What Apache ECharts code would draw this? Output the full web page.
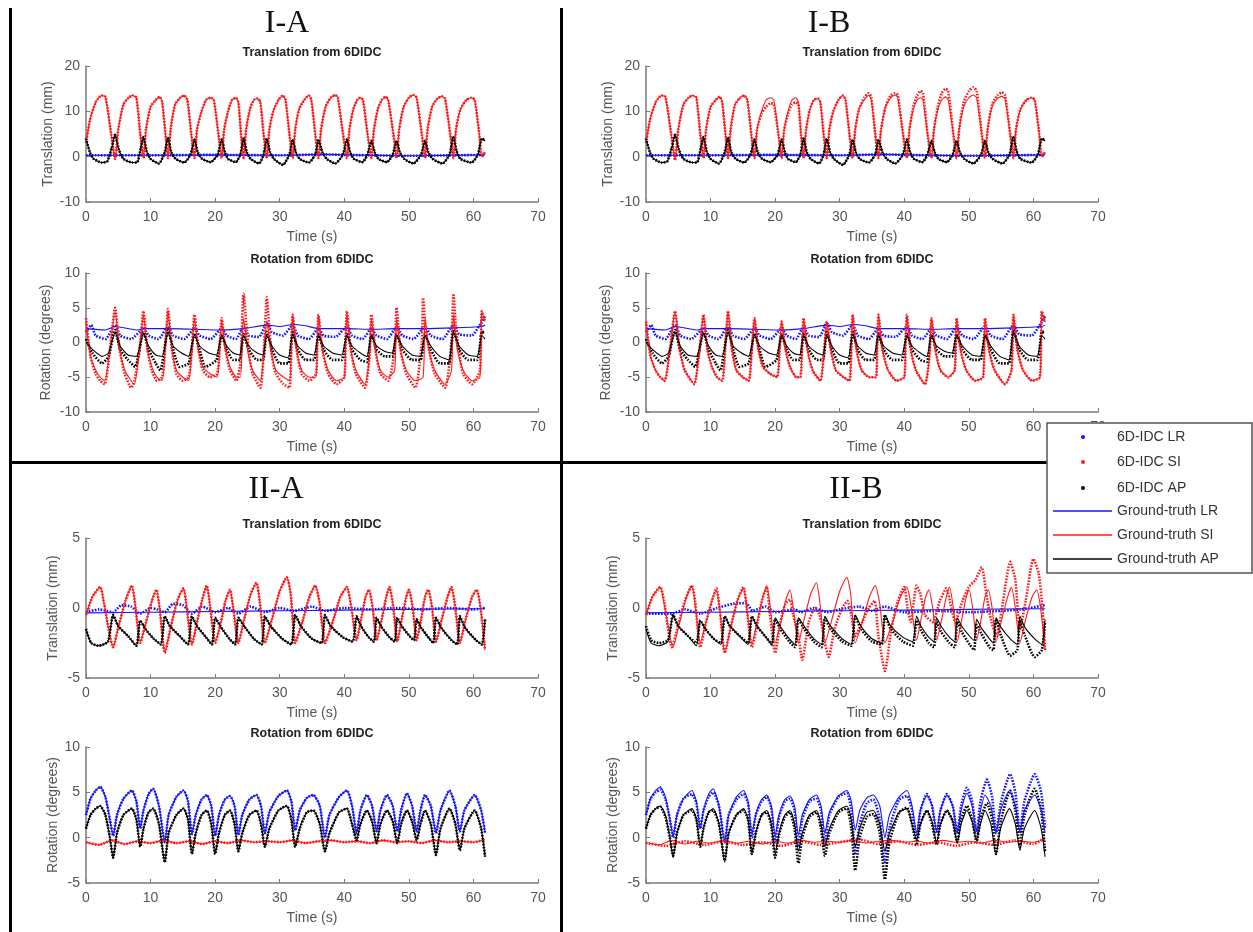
<!DOCTYPE html>
<html>
<head>
<meta charset="utf-8">
<script src="https://cdn.jsdelivr.net/npm/echarts@6/dist/echarts.min.js"></script>
<style>
  html, body { margin: 0; background: #fff; }
  #main { width: 1253px; height: 932px; }
</style>
</head>
<body>
<div id="main"></div>
<script>
// ---- row I, translation (mm) ----
var gtTransI_LR = [[0,0.3],[10,0.3],[20,0.4],[30,0.3],[37,0.5],[40,0.4],[50,0.2],[61.8,0.4]]
var gtTransI_SI = [[0,3],[0.6,8],[1.5,12],[2.4,13.5],[3.0,13.2],[3.9,5],[4.5,-0.5],
  [5.0,6],[5.8,11.5],[6.6,13],[7.2,13.5],[7.8,13],[8.4,5],[8.9,-0.3],
  [9.3,6],[10.0,11],[10.8,12.5],[11.4,13.2],[11.8,12],[12.3,5],[12.7,-0.3],
  [13.1,6],[13.8,11.5],[14.6,13],[15.2,13.5],[15.7,12.5],[16.3,5],[16.8,-0.3],
  [17.2,6],[17.9,10],[18.6,12.5],[19.3,13],[19.8,12.5],[20.5,5],[21.0,-0.3],
  [21.4,6],[22.0,10],[22.6,12.5],[23.2,13],[23.6,12],[24.0,5],[24.4,-0.3],
  [24.8,6],[25.4,10.5],[26.0,12.5],[26.6,12.8],[27.0,12],[27.5,5],[28.0,-0.3],
  [28.4,6],[29.0,10],[29.8,12.5],[30.5,13.5],[30.9,12.5],[31.5,5],[32.0,-0.3],
  [32.4,6],[33.0,10.5],[33.8,12.5],[34.5,13.5],[34.9,12.5],[35.5,5],[36.0,-0.3],
  [36.4,6],[37.1,11],[37.9,13],[38.6,13.6],[39.0,13],[39.8,5],[40.4,-0.3],
  [40.8,6],[41.4,10.5],[42.0,12.5],[42.5,13],[42.9,12.5],[43.6,5],[44.2,-0.3],
  [44.6,6],[45.2,10.5],[45.8,12.5],[46.4,13.2],[46.8,12.5],[47.6,5],[48.1,-0.3],
  [48.5,6],[49.2,11],[50.0,13],[50.7,13.6],[51.2,13],[52.0,5],[52.5,-0.3],
  [52.9,6],[53.6,11],[54.4,12.8],[55.1,13.3],[55.6,12.8],[56.4,5],[56.9,-0.3],
  [57.3,6],[58.0,10.5],[58.9,12.5],[59.7,13],[60.2,12.5],[60.9,5],[61.3,0],[61.8,1]]
var gtTransI_AP = [[0,4],[0.6,1],[1.2,-0.5],[2.5,-1.3],[3.3,-1],[4.0,2],[4.5,4.8],
  [5.1,1.5],[5.8,-0.5],[7.2,-1.3],[7.9,-1.3],[8.5,2],[8.9,4.3],
  [9.4,1.2],[10.0,-0.5],[11.3,-1.5],[12.2,1],[12.7,4.3],
  [13.2,1],[13.9,-0.5],[15.2,-1.3],[16.2,0.5],[16.8,3.8],
  [17.3,1],[18.0,-0.5],[19.3,-1.2],[20.4,0.5],[21.0,3.8],
  [21.5,1],[22.0,-0.5],[23.2,-1.2],[23.9,0.5],[24.4,4.0],
  [24.9,1],[25.5,-0.5],[26.8,-1.5],[27.5,0.5],[28.0,4.0],
  [28.5,1],[29.1,-0.5],[30.5,-1.8],[31.5,0.5],[32.0,3.8],
  [32.5,1],[33.1,-0.5],[34.5,-1.3],[35.5,0.5],[36.0,3.8],
  [36.6,1],[37.3,-0.5],[38.6,-1.5],[39.8,0.5],[40.4,3.8],
  [40.9,1],[41.5,-0.5],[42.8,-1.2],[43.6,0.5],[44.2,3.5],
  [44.7,1],[45.3,-0.5],[46.6,-1.2],[47.5,0.5],[48.1,3.5],
  [48.6,1],[49.3,-0.5],[50.7,-1.5],[51.9,0.5],[52.5,3.5],
  [53.0,1],[53.7,-0.5],[55.2,-1.5],[56.3,0.5],[56.9,4.5],
  [57.4,1.2],[58.0,-0.5],[59.7,-1.3],[60.7,0.5],[61.3,4.0],[61.8,3.5]]
var idcTransIB_SI = [[0,3],[0.6,8],[1.5,12],[2.4,13.5],[3.0,13.2],[3.9,5],[4.5,-0.8],
  [5.0,6],[5.8,11.5],[6.6,13],[7.2,13.5],[7.8,13],[8.4,5],[8.9,-0.3],
  [9.3,6],[10.0,11],[10.8,12.5],[11.4,13.2],[11.8,12],[12.3,5],[12.7,-0.3],
  [13.1,6],[13.8,11.5],[14.6,13],[15.2,13.5],[15.7,12.5],[16.3,5],[16.8,-0.3],
  [17.2,6],[17.9,9.5],[18.6,11],[19.3,11.8],[19.8,11.5],[20.5,5],[21.0,-0.3],
  [21.4,6],[22.0,9.5],[22.6,11.5],[23.2,12],[23.6,11.5],[24.0,5],[24.4,-0.3],
  [24.8,6],[25.4,10.5],[26.0,12.5],[26.6,12.8],[27.0,12],[27.5,5],[28.0,-0.3],
  [28.4,6],[29.0,10],[29.8,12.5],[30.5,13.5],[30.9,12.5],[31.5,5],[32.0,-0.3],
  [32.4,6],[33.0,10.5],[33.8,13],[34.5,14],[34.9,13],[35.5,5],[36.0,-0.3],
  [36.4,6],[37.1,11],[37.9,13.5],[38.6,14],[39.0,13.5],[39.8,5],[40.4,-0.3],
  [40.8,6],[41.4,11],[42.0,13.5],[42.5,14.5],[42.9,14],[43.6,5],[44.2,-0.3],
  [44.6,6],[45.2,11],[45.8,14],[46.4,15],[46.8,14.5],[47.6,5],[48.1,-0.3],
  [48.5,6],[49.2,12],[50.0,14.5],[50.7,15.3],[51.2,14.5],[52.0,5],[52.5,-0.3],
  [52.9,6],[53.6,11.5],[54.4,13.5],[55.1,14.2],[55.6,13.5],[56.4,5],[56.9,-0.3],
  [57.3,6],[58.0,10.5],[58.9,12.5],[59.7,13],[60.2,12.5],[60.9,5],[61.3,0],[61.8,1]]

// ---- row I, rotation (degrees) ----
var gtRotI_LR = [[0,2],[3,1.8],[4.5,2.3],[8,1.8],[8.9,2],[12.7,2],[16.8,1.9],[21,1.8],[24.4,2],[28,2.5],
  [30,2.3],[32,2.6],[34,2.4],[36,2],[40.4,2],[44.2,1.9],[48.1,2],[52.5,2],[56.9,2.1],[61.3,2.3],[61.8,2.5]]
var gtRotI_SI = [[0,3],[0.7,-2],[1.5,-4],[2.2,-5],[2.9,-5.5],[3.7,-1],[4.5,4.5],
  [5.2,-1],[6.0,-4],[7.0,-5.5],[7.5,-6],[8.3,-1],[8.9,4],
  [9.5,-1],[10.2,-3.5],[11.0,-5],[11.8,-5.5],[12.3,-0.5],[12.7,4.5],
  [13.3,-1],[14.0,-4],[15.0,-5],[15.9,-5.5],[16.4,-1],[16.8,3.5],
  [17.4,-1],[18.1,-3.5],[19.2,-4.5],[20.3,-5],[20.7,-1],[21.0,3],
  [21.6,-1],[22.3,-3.5],[23.3,-5],[23.9,-5],[24.2,0],[24.4,3.5],
  [25.0,-1],[25.8,-4],[27.0,-5.5],[27.6,-1],[28.0,3],
  [28.6,-1],[29.4,-4],[30.6,-5],[31.5,-5.5],[31.8,-1],[32.0,4],
  [32.6,-1],[33.4,-4],[34.6,-5],[35.6,-5],[35.8,-1],[36.0,4],
  [36.6,-1],[37.5,-4],[38.8,-5.5],[40.0,-5],[40.2,0],[40.4,4],
  [41.0,-1],[41.8,-4],[43.2,-6],[43.9,-2],[44.2,3.5],
  [44.8,-1],[45.6,-4],[46.8,-5],[47.8,-4],[48.1,3.5],
  [48.7,-1],[49.6,-4],[51.0,-5.5],[52.2,-5],[52.5,3.5],
  [53.1,-1],[54.0,-4],[55.6,-6],[56.6,-4],[56.9,4],
  [57.5,-1],[58.4,-4],[59.8,-5.5],[61.0,-5],[61.3,4.5],[61.8,3]]
var gtRotI_AP = [[0,0],[1,-1],[2.5,-2],[3.5,-1.5],[4.5,1.5],
  [5.3,-0.5],[6.5,-1.8],[7.8,-2],[8.9,1.3],
  [9.7,-0.5],[10.8,-1.8],[11.8,-2],[12.7,1.5],
  [13.5,-0.5],[14.8,-1.5],[15.9,-2],[16.8,1],
  [17.6,-0.5],[19,-1.5],[20.2,-1.8],[21.0,1],
  [21.8,-0.5],[22.8,-1.5],[23.8,-1.8],[24.4,1],
  [25.2,-0.5],[26.5,-1.5],[27.4,-1.8],[28.0,1],
  [28.8,-0.5],[30,-1.8],[31.3,-2.2],[32.0,1.2],
  [32.8,-0.5],[34,-1.5],[35.3,-1.8],[36.0,1],
  [36.8,-0.5],[38.2,-1.5],[39.6,-1.8],[40.4,1],
  [41.2,-0.5],[42.5,-1.5],[43.5,-2],[44.2,1],
  [45,-0.5],[46.3,-1.3],[47.4,-1.5],[48.1,1],
  [49,-0.5],[50.5,-1.8],[51.8,-2],[52.5,1],
  [53.4,-0.5],[54.8,-2],[56.2,-2.5],[56.9,1.5],
  [57.8,-0.5],[59.2,-1.8],[60.6,-2],[61.3,1],[61.8,0.5]]
var idcRotI_LR = [[0,1.5],[0.8,2.5],[1.5,1],[3,0.5],[4.5,2.5],[5.3,1],[7,0.5],[8.9,2],[9.7,1],[11.2,0.5],
  [12.7,2.3],[13.5,1],[15.2,0.5],[16.8,2],[17.6,1],[19.3,0.5],[21,2],[21.8,1],[23.2,0.5],[24.4,2.2],
  [25.2,1],[26.8,0.8],[28,2.8],[28.8,1.5],[30.5,1],[32,2.5],[32.8,1],[34.5,0.5],[36,2],[36.8,1],
  [38.6,0.8],[40.4,2.3],[41.2,1],[42.8,0.5],[44.2,2],[45,1],[46.6,0.5],[48.1,2.2],[49,1],[50.7,0.5],
  [52.5,2.3],[53.4,1],[55.2,0.5],[56.9,2.5],[57.8,1.2],[59.7,1],[61.3,3],[61.8,3.8]]
var idcRotIA_SI = [[0,3.5],[0.7,-2],[1.5,-4.5],[2.2,-5.5],[2.9,-6],[3.7,-1],[4.5,5],
  [5.2,-1],[6.0,-4.5],[7.0,-6.5],[7.5,-5.5],[8.3,-1],[8.9,4.5],
  [9.5,-1],[10.2,-4],[11.0,-5.5],[11.8,-5],[12.3,-0.5],[12.7,4.8],
  [13.3,-1],[14.0,-4.5],[15.0,-5.5],[15.9,-5],[16.4,-1],[16.8,4],
  [17.4,-1],[18.1,-4],[19.2,-5],[20.3,-4.5],[20.7,-1],[21.0,3.5],
  [21.6,-1],[22.3,-4],[23.3,-5.5],[23.9,-3],[24.4,7],[24.8,3],[25.3,-2],[25.8,-4.5],[27.0,-6.5],[27.6,0],[28.0,6.5],[28.4,2],
  [28.8,-2],[29.4,-4.5],[30.6,-6],[31.5,-6.5],[31.8,-1],[32.0,4],
  [32.6,-1],[33.4,-4.5],[34.6,-5.5],[35.6,-4.5],[35.8,-1],[36.0,4],
  [36.6,-1],[37.5,-4.5],[38.8,-6],[40.0,-5],[40.2,0],[40.4,4.5],
  [41.0,-1],[41.8,-4.5],[43.2,-6.5],[43.9,-2],[44.2,4],
  [44.8,-1],[45.6,-4.5],[46.8,-5.5],[47.8,-1],[48.1,5],
  [48.7,-1],[49.6,-4.5],[51.0,-6.5],[52.0,0],[52.2,6.4],[52.6,2],
  [53.1,-1],[54.0,-4.5],[55.6,-6.5],[56.6,0],[56.9,7],[57.3,2],
  [57.8,-1.5],[58.4,-4.5],[59.8,-6],[61.0,-4],[61.3,4.5],[61.8,3]]
var idcRotI_AP = [[0,0.5],[1,-1.5],[2.5,-3],[3.5,-2],[4.5,1.8],
  [5.3,-1],[6.5,-2.5],[7.6,-3.5],[8.9,1.5],
  [9.7,-1],[10.8,-3],[11.5,-4],[12.7,1.8],
  [13.5,-1],[14.5,-3.5],[15.9,-3],[16.8,1.3],
  [17.6,-1],[18.5,-3.5],[20.2,-2.5],[21.0,1],
  [21.8,-1],[22.8,-2.5],[23.8,-2.5],[24.4,1.2],
  [25.2,-1],[26.5,-2.5],[27.4,-2.5],[28.0,1.5],
  [28.8,-1],[30,-3],[31.3,-3],[32.0,1.5],
  [32.8,-1],[34,-2.5],[35.3,-2.5],[36.0,1.2],
  [36.8,-1],[38.2,-2.5],[39.6,-2.5],[40.4,1.2],
  [41.2,-1],[42.5,-2.5],[43.5,-2.8],[44.2,1.2],
  [45,-1],[46.3,-2],[47.4,-2],[48.1,1.2],
  [49,-1],[50.5,-2.5],[51.8,-2.5],[52.5,1.2],
  [53.4,-1],[54.8,-3],[56.2,-3],[56.9,1.8],
  [57.8,-1],[59.2,-2.5],[60.6,-2.5],[61.3,1.5],[61.8,1.5]]

// ---- row II, translation (mm) ----
var gtTransII_LR = [[0,-0.35],[10,-0.3],[20,-0.25],[30,-0.2],[40,-0.15],[50,-0.1],[61.8,-0.05]]
var gtTransII_SI = [[0,-0.5],[1,0.8],[2.2,1.5],[2.8,0.3],[4.2,-2.8],[5.1,-1.2],[6.1,0.5],[7.1,1.6],[7.6,0.3],[8.4,-2.5],
  [9.3,-1],[10.2,0.5],[10.9,1.3],[11.4,0],[12.2,-3.2],[13.2,-1.2],[14.2,0.6],[15.1,1.4],[15.6,0],[16.4,-2.6],
  [17.2,-1],[18,0.6],[18.7,1.6],[19.2,0.2],[20,-2.5],[20.9,-1],[21.6,0.5],[22.3,1.3],[22.8,0],[23.6,-2.5],
  [24.5,-0.8],[25.5,1],[26.4,1.8],[26.9,0.5],[27.7,-2.5],[28.8,-0.8],[30,1.2],[31.1,2.2],[31.7,1],[32.4,-2.5],
  [33.5,-1],[34.6,0.8],[35.5,1.6],[36.2,0.3],[37,-2.5],[38.2,-1],[39.4,0.8],[40.4,1.5],[41.1,0],[41.9,-2.3],
  [42.6,-0.8],[43.3,0.8],[43.8,1.3],[44.4,0],[45,-2.3],[45.8,-0.8],[46.5,0.8],[47,1.5],[47.6,0],[48.2,-2.4],
  [48.9,-0.8],[49.6,0.8],[50,1.3],[50.6,0],[51.2,-2.3],[51.9,-0.8],[52.5,0.8],[53,1.3],[53.6,0],[54.2,-2.4],
  [55.1,-0.8],[56,0.8],[56.6,1.5],[57.2,0],[57.9,-2.5],[58.8,-0.8],[59.8,0.8],[60.5,1.3],[61.1,0],[61.8,-3]]
var gtTransII_AP = [[0,-1.5],[0.8,-2.5],[2,-2.7],[3.4,-2.4],[4.2,-0.5],[5,-1.3],[6.5,-2],[7.8,-2.7],[8.4,-0.9],
  [9.2,-1.5],[10.5,-2.2],[11.6,-2.6],[12.2,-0.6],[13,-1.3],[14.5,-2],[15.8,-2.6],[16.4,-0.6],
  [17.2,-1.3],[18.6,-2.1],[19.5,-2.6],[20,-0.7],[20.8,-1.3],[22.2,-2.2],[23.1,-2.6],[23.6,-0.7],
  [24.5,-1.3],[26,-2.2],[27.2,-2.6],[27.7,-0.6],[28.6,-1.3],[30.4,-2.2],[31.8,-2.6],[32.4,-0.5],
  [33.3,-1.3],[35,-2.2],[36.5,-2.5],[37,-0.5],[37.9,-1.3],[39.8,-2.1],[41.3,-2.4],[41.9,-0.6],
  [42.6,-1.3],[43.8,-2.1],[44.6,-2.4],[45,-0.7],[45.7,-1.3],[47,-2.1],[47.8,-2.4],[48.2,-0.7],
  [48.9,-1.3],[50.1,-2],[50.8,-2.3],[51.2,-0.8],[51.9,-1.4],[53.2,-2.2],[53.8,-2.5],[54.2,-0.7],
  [55,-1.4],[56.6,-2.3],[57.5,-2.6],[57.9,-0.6],[58.7,-1.4],[60.4,-2.3],[61.3,-2.6],[61.8,-0.8]]
var idcTransIIA_LR = [[0,-0.3],[2,-0.1],[4.2,-0.3],[5.5,0.2],[7,0.1],[8.4,-0.4],[10,0],[11,-0.1],[12.2,-0.3],
  [13.5,0.3],[15,0.2],[16.4,-0.4],[18,0.1],[20,-0.3],[22,0],[23.6,-0.4],[25.5,0.1],[27.7,-0.3],[30,0],
  [32.2,-0.2],[35,0.1],[37,-0.2],[40,0],[44,-0.1],[48,0],[52,-0.1],[56,0],[60,-0.1],[61.8,0]]
var idcTransIIB_LR = [[0,-0.4],[4,-0.4],[6,-0.1],[8.4,-0.4],[11,0],[13.5,0.3],[15.5,0.35],[16.5,-0.2],[18.5,0.1],
  [20,-0.3],[23,-0.1],[24,-0.3],[26,0],[28,-0.3],[30,-0.1],[33,0.1],[35,-0.2],[37,0.1],[40,-0.3],[45,-0.2],
  [50,-0.3],[55,-0.2],[58,-0.1],[61.8,0.2]]
var idcTransIIB_SI = [[0,-0.5],[1,0.8],[2.2,1.5],[2.8,0.5],[4.0,-2.8],[5,-1.2],[6,0.5],[7.1,1.6],[7.6,0.5],[8.4,-2.8],
  [9.3,-1],[10.2,0.5],[10.9,1.4],[11.4,0],[12.2,-3.2],[13.2,-1.2],[14.2,0.6],[15.1,1.5],[15.6,0],[16.4,-2.8],
  [17.2,-1.2],[18.0,0.6],[18.7,1.5],[19.2,-0.5],[20.0,-3.2],[20.8,-1],[21.6,0.3],[22.3,0.6],[22.8,-0.5],[23.6,-2],
  [24.2,-3.7],[25.2,-1],[26.2,0],[26.9,-0.5],[27.7,-2.5],[28.3,-3.5],[29.2,-1.5],[30.4,0],[31.2,0.5],[31.8,-0.5],
  [32.4,-2],[33.5,-1],[34.5,0],[35.4,0.5],[36.0,-2],[37.0,-4.5],[38,-1.5],[39,0.5],[40,1.5],[40.5,0],[41,-1],
  [41.9,1.6],[42.5,1],[43.2,-0.5],[44.4,-1],[45.5,0.5],[46.5,1.4],[47.3,0],[47.9,-1],[49,0.5],[50,1.5],[51,2],
  [52,2.9],[52.7,1],[53.5,-1],[54.3,-2],[55.3,0.5],[56.4,3.3],[57.2,2],[57.9,-1.5],[58.8,0.5],[60,3.5],[60.8,2.5],
  [61.4,0],[61.8,-3]]
var idcTransIIB_AP = [[0,-1.3],[0.8,-2.3],[2,-2.5],[3.4,-2.3],[4.2,-0.5],[5,-1.3],[6.5,-2],[7.8,-2.5],[8.4,-0.9],
  [9.2,-1.5],[10.5,-2.2],[11.6,-2.5],[12.2,-0.6],[13,-1.3],[14.5,-2],[15.8,-2.5],[16.4,-0.6],[17.2,-1.3],
  [18.6,-2.1],[19.5,-2.6],[20,-0.8],[20.8,-1.5],[22.2,-2.4],[23.1,-2.8],[23.6,-0.8],[24.5,-1.5],[26,-2.4],
  [27.2,-2.8],[27.7,-0.7],[28.6,-1.5],[30.4,-2.4],[31.8,-2.7],[32.4,-0.6],[33.3,-1.5],[35,-2.4],[36.5,-2.6],
  [37,-0.5],[37.9,-1.5],[39.8,-2.4],[41.3,-2.7],[41.9,-0.9],[42.6,-1.6],[43.8,-2.5],[44.6,-2.8],[45,-1],
  [45.7,-1.7],[47,-2.5],[47.8,-2.8],[48.2,-1],[48.9,-1.7],[50.1,-2.6],[50.8,-3],[51.2,-1.2],[51.9,-1.8],
  [53.2,-2.8],[53.8,-3],[54.2,-0.8],[55,-2],[56.4,-3.4],[57.5,-3],[57.9,-0.9],[58.7,-2],[60.2,-3.5],
  [61.3,-3],[61.8,-1]]

// ---- row II, rotation (degrees) ----
var gtRotII_LR = [[0,2.5],[0.7,4.3],[1.5,5.2],[2.2,5.6],[3,4.5],[3.7,2],[4.2,0.2],[4.8,2.5],[5.8,4.3],[7.1,5.2],
  [7.8,4],[8.4,1],[8.9,3],[9.7,4.8],[10.4,5.4],[11.3,3.5],[12.2,-0.5],[12.8,2.5],[14,4.5],[15.1,5.2],[15.8,4],
  [16.4,0.4],[17,2.5],[17.9,4.2],[18.7,4.7],[19.4,3.5],[20,0.2],[20.6,2.5],[21.5,4.2],[22.3,4.6],[23,3.5],
  [23.6,0.3],[24.2,2.5],[25.3,4.2],[26.4,4.7],[27.1,3.5],[27.7,0.5],[28.4,2.8],[29.8,4.6],[31.1,5.2],[31.8,4],
  [32.4,0.8],[33.1,3],[34.2,4.4],[35.2,4.7],[36.2,3.5],[37,0],[37.7,2.5],[39.2,4.5],[40.4,5.2],[41.2,3.5],
  [41.9,0.5],[42.5,3],[43.5,4.7],[44.3,3.5],[45,0.7],[45.6,3],[46.6,4.7],[47.5,3.5],[48.2,0.7],[48.8,3],
  [49.7,4.9],[50.5,3.5],[51.2,0.7],[51.8,3],[52.5,4.7],[53.4,3.5],[54.2,0.5],[54.9,3],[56.3,5.2],[57.2,3.5],
  [57.9,0.7],[58.6,3],[60.2,4.7],[61.2,3],[61.8,0.5]]
var gtRotII_SI = [[0,-0.5],[2,-0.8],[4,-0.3],[6,-0.7],[8,-0.4],[10,-0.6],[12,-0.3],[14,-0.6],[16,-0.4],[18,-0.7],
  [20,-0.4],[22,-0.6],[24,-0.3],[26,-0.5],[28,-0.4],[30,-0.5],[32,-0.3],[34,-0.6],[36,-0.4],[38,-0.3],[40,-0.5],
  [42,-0.4],[44,-0.6],[46,-0.3],[48,-0.5],[50,-0.4],[52,-0.6],[54,-0.3],[56,-0.5],[58,-0.4],[60,-0.5],[61.8,-0.2]]
var gtRotII_AP = [[0,1],[0.7,2.5],[1.5,3.2],[2.2,3.5],[3,2.5],[3.7,0],[4.2,-2.2],[4.8,0.5],[5.8,2.5],[7.1,3.2],
  [7.8,2],[8.4,-1],[8.9,1],[9.7,2.8],[10.4,3.2],[11.3,1.5],[12.2,-2.7],[12.8,0.5],[14,2.5],[15.1,3.2],[15.8,2],
  [16.4,-1.8],[17,0.5],[17.9,2.5],[18.7,3],[19.4,1.5],[20,-1.8],[20.6,0.5],[21.5,2.5],[22.3,3],[23,1.5],
  [23.6,-1.5],[24.2,0.5],[25.3,2.5],[26.4,3],[27.1,1.5],[27.7,-1],[28.4,1],[29.8,3],[31.1,3.5],[31.8,2],
  [32.4,-1],[33.1,1],[34.2,2.8],[35.2,3],[36.2,1.5],[37,-1.5],[37.7,0.5],[39.2,2.8],[40.4,3.2],[41.2,1.5],
  [41.9,-0.3],[42.5,1.5],[43.5,3],[44.3,1.8],[45,-0.6],[45.6,1.5],[46.6,3],[47.5,1.8],[48.2,-0.6],[48.8,1.5],
  [49.7,3],[50.5,1.8],[51.2,-0.3],[51.8,1.5],[52.5,3],[53.4,1.5],[54.2,-1.9],[54.9,1],[56.3,3.2],[57.2,1.5],
  [57.9,-1.4],[58.6,1],[60.2,3],[61.2,1],[61.8,-2.1]]
var idcRotIIB_SI = [[0,-0.6],[3,-0.9],[6,-0.4],[9,-0.8],[12,-0.4],[15,-0.8],[18,-0.5],[21,-0.9],[24,-0.4],
  [27,-0.8],[30,-0.5],[33,-0.2],[36,-0.7],[39,-0.4],[42,-0.8],[45,-0.5],[48,-0.9],[51,-0.5],[54,-0.8],
  [57,-0.3],[60,-0.7],[61.8,0]]
var idcRotIIB_LR = [[0,2.5],[0.7,4.3],[1.5,5],[2.2,5.3],[3,4.3],[3.7,2],[4.2,0],[4.8,2.5],[5.8,4.3],[7.1,4.8],
  [7.8,3.8],[8.4,1],[8.9,3],[9.7,4.5],[10.4,5],[11.3,3.5],[12.2,-0.5],[12.8,2.5],[14,4.2],[15.1,4.8],[15.8,3.8],
  [16.4,0],[17,2.5],[17.9,4],[18.7,4.5],[19.4,3.3],[20,-0.5],[20.6,2.3],[21.5,4],[22.3,4.3],[23,3],[23.6,-1],
  [24.2,2],[25.3,4],[26.4,4.3],[27.1,3],[27.7,-0.5],[28.4,2.5],[29.8,4.5],[31.1,4.9],[31.8,3],[32.4,-1.7],
  [33.1,1.5],[34.2,3.8],[35.2,4.2],[36.2,2],[37,-2.7],[37.7,1],[39.2,4.2],[40.4,4.6],[41.2,3],[41.9,0],
  [42.5,3],[43.5,4.8],[44.3,3.5],[45,0.5],[45.6,3],[46.6,4.8],[47.5,3.5],[48.2,0.5],[48.8,3.5],[49.7,5.5],
  [50.5,4],[51.2,0.5],[51.8,4],[52.8,6.4],[53.6,4.5],[54.2,0.5],[55,4],[56.4,7],[57.2,5],[57.9,0.5],[58.6,4],
  [60.2,7],[61.2,5],[61.8,1]]
var idcRotIIB_AP = [[0,1],[0.7,2.5],[1.5,3.2],[2.2,3.4],[3,2.3],[3.7,0],[4.2,-2],[4.8,0.5],[5.8,2.5],[7.1,3],
  [7.8,2],[8.4,-1],[8.9,1],[9.7,2.8],[10.4,3],[11.3,1.5],[12.2,-2.5],[12.8,0.5],[14,2.5],[15.1,3],[15.8,2],
  [16.4,-1.8],[17,0.5],[17.9,2.5],[18.7,2.8],[19.4,1.3],[20,-2.2],[20.6,0.3],[21.5,2.3],[22.3,2.8],[23,1],
  [23.6,-2.8],[24.2,0],[25.3,2.3],[26.4,2.8],[27.1,1],[27.7,-2],[28.4,0.5],[29.8,2.8],[31.1,3.2],[31.8,1],
  [32.4,-3.6],[33.1,0],[34.2,2.3],[35.2,2.6],[36.2,0.5],[37,-4.6],[37.7,-0.5],[39.2,2.8],[40.4,3.3],[41.2,1.5],
  [41.9,-0.8],[42.5,1.5],[43.5,3],[44.3,1.5],[45,-0.8],[45.6,1.5],[46.6,3],[47.5,1.8],[48.2,-0.5],[48.8,2],
  [49.7,3.5],[50.5,2],[51.2,-0.5],[51.8,2],[52.8,3.8],[53.6,2],[54.2,-1.8],[55,2],[56.4,5.2],[57.2,3],
  [57.9,-1],[58.6,2.5],[60.2,5.4],[61.2,3],[61.8,-1.5]]

var legendNames = ['6D-IDC LR', '6D-IDC SI', '6D-IDC AP', 'Ground-truth LR', 'Ground-truth SI', 'Ground-truth AP']
var colLR = '#1414ff', colSI = '#ff1a1a', colAP = '#000000'

// one entry per subplot: [idc LR, idc SI, idc AP, gt LR, gt SI, gt AP]
var panels = [
  {left: 86, top: 66, height: 136, min: -10, max: 20, step: 10, name: 'Translation (mm)', gap: 31,
   title: 'Translation from 6DIDC',
   data: [gtTransI_LR, gtTransI_SI, gtTransI_AP, gtTransI_LR, gtTransI_SI, gtTransI_AP]},
  {left: 86, top: 273, height: 139, min: -10, max: 10, step: 5, name: 'Rotation (degrees)', gap: 33,
   title: 'Rotation from 6DIDC',
   data: [idcRotI_LR, idcRotIA_SI, idcRotI_AP, gtRotI_LR, gtRotI_SI, gtRotI_AP]},
  {left: 646, top: 66, height: 136, min: -10, max: 20, step: 10, name: 'Translation (mm)', gap: 31,
   title: 'Translation from 6DIDC',
   data: [gtTransI_LR, idcTransIB_SI, gtTransI_AP, gtTransI_LR, gtTransI_SI, gtTransI_AP]},
  {left: 646, top: 273, height: 139, min: -10, max: 10, step: 5, name: 'Rotation (degrees)', gap: 33,
   title: 'Rotation from 6DIDC',
   data: [idcRotI_LR, gtRotI_SI, idcRotI_AP, gtRotI_LR, gtRotI_SI, gtRotI_AP]},
  {left: 86, top: 538, height: 140, min: -5, max: 5, step: 5, name: 'Translation (mm)', gap: 26,
   title: 'Translation from 6DIDC',
   data: [idcTransIIA_LR, gtTransII_SI, gtTransII_AP, gtTransII_LR, gtTransII_SI, gtTransII_AP]},
  {left: 86, top: 747, height: 136, min: -5, max: 10, step: 5, name: 'Rotation (degrees)', gap: 26,
   title: 'Rotation from 6DIDC',
   data: [gtRotII_LR, gtRotII_SI, gtRotII_AP, gtRotII_LR, gtRotII_SI, gtRotII_AP]},
  {left: 646, top: 538, height: 140, min: -5, max: 5, step: 5, name: 'Translation (mm)', gap: 26,
   title: 'Translation from 6DIDC',
   data: [idcTransIIB_LR, idcTransIIB_SI, idcTransIIB_AP, gtTransII_LR, gtTransII_SI, gtTransII_AP]},
  {left: 646, top: 747, height: 136, min: -5, max: 10, step: 5, name: 'Rotation (degrees)', gap: 26,
   title: 'Rotation from 6DIDC',
   data: [idcRotIIB_LR, idcRotIIB_SI, idcRotIIB_AP, gtRotII_LR, gtRotII_SI, gtRotII_AP]}
]
var plotWidth = 452
var panelLabels = [['I-A', 287, 24], ['I-B', 829, 24], ['II-A', 276, 490], ['II-B', 856, 490]]

var chart = echarts.init(document.getElementById('main'))
var axisGrey = '#7a7a7a'
var font = '"Liberation Sans", Arial, sans-serif'

var grids = [], xAxes = [], yAxes = [], series = [], graphics = []
var colors = [colLR, colSI, colAP, colLR, colSI, colAP]

panels.forEach(function(p, i) {
  grids.push({left: p.left, top: p.top, width: plotWidth, height: p.height})
  xAxes.push({
    gridIndex: i, type: 'value', min: 0, max: 70, interval: 10,
    name: 'Time (s)', nameLocation: 'middle', nameGap: 28,
    nameTextStyle: {color: '#555', fontSize: 14, fontFamily: font},
    axisLine: {onZero: false, lineStyle: {color: axisGrey, width: 1.5}},
    axisTick: {inside: true, length: 4, lineStyle: {color: axisGrey}},
    axisLabel: {color: '#555', fontSize: 14, fontFamily: font, margin: 8},
    splitLine: {show: false}
  })
  yAxes.push({
    gridIndex: i, type: 'value', min: p.min, max: p.max, interval: p.step,
    name: p.name, nameLocation: 'middle', nameGap: p.gap,
    nameTextStyle: {color: '#555', fontSize: 14, fontFamily: font},
    axisLine: {show: true, onZero: false, lineStyle: {color: axisGrey, width: 1.5}},
    axisTick: {show: true, inside: true, length: 4, lineStyle: {color: axisGrey}},
    axisLabel: {color: '#555', fontSize: 14, fontFamily: font, margin: 6},
    splitLine: {show: false}
  })
  p.data.forEach(function(d, k) {
    var dotted = k < 3
    series.push({
      name: legendNames[k], type: 'line', xAxisIndex: i, yAxisIndex: i,
      data: d, showSymbol: false, symbol: 'none', smooth: 0.2,
      lineStyle: {color: colors[k], width: dotted ? 2.6 : 1.1, type: dotted ? [1.6, 1.4] : 'solid'},
      z: dotted ? 2 : 3
    })
  })
  graphics.push({
    type: 'text', x: p.left + plotWidth / 2, y: p.top - 13,
    style: {text: p.title, font: 'bold 12.5px ' + font, fill: '#222', textAlign: 'center', textVerticalAlign: 'middle'}
  })
})

panelLabels.forEach(function(l) {
  graphics.push({
    type: 'text', x: l[1], y: l[2],
    style: {text: l[0], font: '32px "Liberation Serif", "Times New Roman", serif', fill: '#111', textAlign: 'center', textVerticalAlign: 'middle'}
  })
})

// frame lines between the four panels
graphics.push({type: 'rect', shape: {x: 9, y: 8, width: 3, height: 924}, style: {fill: '#000'}})
graphics.push({type: 'rect', shape: {x: 560, y: 8, width: 3, height: 924}, style: {fill: '#000'}})
graphics.push({type: 'rect', shape: {x: 10, y: 461, width: 1037, height: 3}, style: {fill: '#000'}})

// legend box
graphics.push({type: 'rect', z: 10, shape: {x: 1047, y: 423, width: 205, height: 150},
  style: {fill: '#fff', stroke: '#555', lineWidth: 1.5}})
var rowY = [437, 462, 488, 511, 535, 559]
legendNames.forEach(function(n, k) {
  if (k < 3) {
    graphics.push({type: 'circle', z: 11, shape: {cx: 1083, cy: rowY[k], r: 2}, style: {fill: colors[k]}})
  } else {
    graphics.push({type: 'line', z: 11, shape: {x1: 1053, y1: rowY[k], x2: 1112, y2: rowY[k]},
      style: {stroke: colors[k], lineWidth: 1.5}})
  }
  graphics.push({type: 'text', z: 11, x: 1117, y: rowY[k],
    style: {text: n, font: '14px ' + font, fill: '#333', textVerticalAlign: 'middle'}})
})

chart.setOption({
  animation: false,
  grid: grids,
  xAxis: xAxes,
  yAxis: yAxes,
  series: series,
  graphic: graphics
})
</script>
</body>
</html>
